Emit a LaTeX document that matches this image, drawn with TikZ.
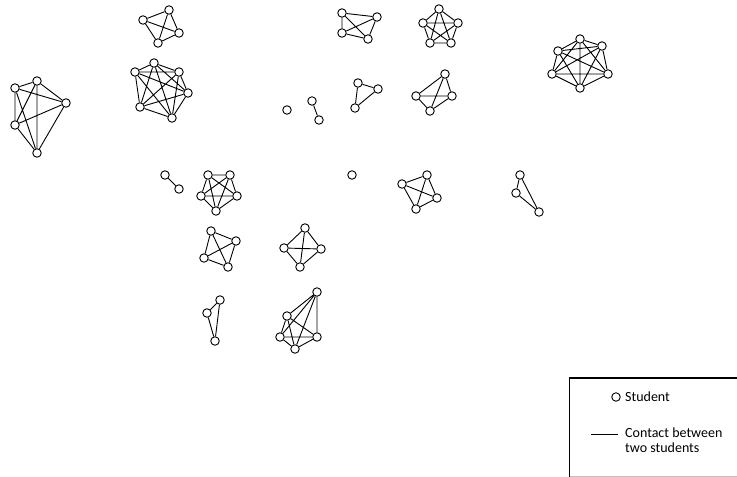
\documentclass[tikz,border=0pt]{standalone}
\usepackage{fontspec}
\setmainfont{Carlito}
\usepackage{tikz}
\usetikzlibrary{positioning}

\begin{document}
\begin{tikzpicture}[x=1pt,y=-1pt,
            stu/.style={circle, draw=black, fill=white, line width=0.9pt, inner sep=0pt, minimum size=8.5pt},
            contact/.style={black, line width=0.9pt},
            legtext/.style={font=\fontsize{14}{15}\selectfont, anchor=west, align=left, inner sep=0pt}]
        \useasboundingbox (0,0) rectangle (737,477);
        % cluster on the far left
        \node[stu] (A1) at (15,88) {};  \node[stu] (A2) at (37,81) {};  \node[stu] (A3) at (66,103) {};
        \node[stu] (A4) at (15,125) {}; \node[stu] (A5) at (37,153) {};
        \draw[contact] (A1)--(A2) (A1)--(A3) (A1)--(A4) (A1)--(A5) (A2)--(A3) (A2)--(A4) (A2)--(A5)
                       (A3)--(A4) (A3)--(A5) (A4)--(A5);
        % top row
        \node[stu] (B1) at (169,10) {}; \node[stu] (B2) at (143,20) {}; \node[stu] (B3) at (179,33) {};
        \node[stu] (B4) at (158,43) {};
        \draw[contact] (B1)--(B2) (B1)--(B3) (B1)--(B4) (B2)--(B3) (B2)--(B4) (B3)--(B4);
        \node[stu] (C1) at (154,63) {}; \node[stu] (C2) at (135,72) {}; \node[stu] (C3) at (179,72) {};
        \node[stu] (C4) at (188,93) {}; \node[stu] (C5) at (140,107) {}; \node[stu] (C6) at (172,118) {};
        \draw[contact] (C1)--(C2) (C1)--(C3) (C1)--(C4) (C1)--(C5) (C1)--(C6) (C2)--(C3) (C2)--(C4)
                       (C2)--(C5) (C2)--(C6) (C3)--(C4) (C3)--(C5) (C3)--(C6) (C4)--(C5) (C4)--(C6) (C5)--(C6);
        \node[stu] (H1) at (342,13) {}; \node[stu] (H2) at (377,17) {}; \node[stu] (H3) at (342,33) {};
        \node[stu] (H4) at (368,39) {};
        \draw[contact] (H1)--(H2) (H1)--(H3) (H1)--(H4) (H2)--(H3) (H2)--(H4) (H3)--(H4);
        \node[stu] (I1) at (439,9) {};  \node[stu] (I2) at (423,23) {}; \node[stu] (I3) at (458,23) {};
        \node[stu] (I4) at (430,43) {}; \node[stu] (I5) at (451,43) {};
        \draw[contact] (I1)--(I2) (I1)--(I3) (I1)--(I4) (I1)--(I5) (I2)--(I3) (I2)--(I4) (I2)--(I5)
                       (I3)--(I4) (I3)--(I5) (I4)--(I5);
        \node[stu] (J1) at (580,39) {}; \node[stu] (J2) at (602,46) {}; \node[stu] (J3) at (558,51) {};
        \node[stu] (J4) at (552,74) {}; \node[stu] (J5) at (608,74) {}; \node[stu] (J6) at (580,88) {};
        \draw[contact] (J1)--(J2) (J1)--(J3) (J1)--(J4) (J1)--(J5) (J1)--(J6) (J2)--(J3) (J2)--(J4)
                       (J2)--(J5) (J2)--(J6) (J3)--(J4) (J3)--(J5) (J3)--(J6) (J4)--(J5) (J4)--(J6) (J5)--(J6);
        % middle row
        \node[stu] (D1) at (287,110) {};
        \node[stu] (E1) at (312,101) {}; \node[stu] (E2) at (319,120) {};
        \draw[contact] (E1)--(E2);
        \node[stu] (F1) at (358,83) {}; \node[stu] (F2) at (378,89) {}; \node[stu] (F3) at (355,108) {};
        \draw[contact] (F1)--(F2) (F1)--(F3) (F2)--(F3);
        \node[stu] (G1) at (445,74) {}; \node[stu] (G2) at (416,96) {}; \node[stu] (G3) at (452,96) {};
        \node[stu] (G4) at (430,111) {};
        \draw[contact] (G1)--(G2) (G1)--(G3) (G1)--(G4) (G2)--(G3) (G2)--(G4) (G3)--(G4);
        \node[stu] (K1) at (165,175) {}; \node[stu] (K2) at (179,189) {};
        \draw[contact] (K1)--(K2);
        \node[stu] (L1) at (208,175) {}; \node[stu] (L2) at (230,175) {}; \node[stu] (L3) at (201,196) {};
        \node[stu] (L4) at (237,196) {}; \node[stu] (L5) at (216,211) {};
        \draw[contact] (L1)--(L2) (L1)--(L3) (L1)--(L4) (L1)--(L5) (L2)--(L3) (L2)--(L4) (L2)--(L5)
                       (L3)--(L4) (L3)--(L5) (L4)--(L5);
        \node[stu] (O1) at (352,175) {};
        \node[stu] (P1) at (427,175) {}; \node[stu] (P2) at (402,184) {}; \node[stu] (P3) at (437,198) {};
        \node[stu] (P4) at (416,209) {};
        \draw[contact] (P1)--(P2) (P1)--(P3) (P1)--(P4) (P2)--(P3) (P2)--(P4) (P3)--(P4);
        \node[stu] (Q1) at (520,175) {}; \node[stu] (Q2) at (516,193) {}; \node[stu] (Q3) at (539,212) {};
        \draw[contact] (Q1)--(Q2) (Q1)--(Q3) (Q2)--(Q3);
        % lower rows
        \node[stu] (M1) at (211,231) {}; \node[stu] (M2) at (236,241) {}; \node[stu] (M3) at (204,258) {};
        \node[stu] (M4) at (228,267) {};
        \draw[contact] (M1)--(M2) (M1)--(M3) (M1)--(M4) (M2)--(M3) (M2)--(M4) (M3)--(M4);
        \node[stu] (N1) at (305,228) {}; \node[stu] (N2) at (284,248) {}; \node[stu] (N3) at (321,249) {};
        \node[stu] (N4) at (300,267) {};
        \draw[contact] (N1)--(N2) (N1)--(N3) (N1)--(N4) (N2)--(N3) (N2)--(N4) (N3)--(N4);
        \node[stu] (R1) at (220,300) {}; \node[stu] (R2) at (207,313) {}; \node[stu] (R3) at (215,341) {};
        \draw[contact] (R1)--(R2) (R1)--(R3) (R2)--(R3);
        \node[stu] (S1) at (317,292) {}; \node[stu] (S2) at (287,316) {}; \node[stu] (S3) at (280,337) {};
        \node[stu] (S4) at (317,337) {}; \node[stu] (S5) at (295,349) {};
        \draw[contact] (S1)--(S2) (S1)--(S3) (S1)--(S4) (S1)--(S5) (S2)--(S3) (S2)--(S4) (S2)--(S5)
                       (S3)--(S4) (S3)--(S5) (S4)--(S5);
        % legend
        \draw[line width=1.3pt] (569.5,476.5) -- (569.5,378) -- (737,378);
        \draw[line width=0.5pt, black!25] (569.5,476.5) -- (737,476.5);
        \node[stu] (legstu) at (616,397) {};
        \node[legtext] (legstutext) at (625,397) {Student};
        \coordinate (legA) at (591,434); \coordinate (legB) at (618,434);
        \draw[contact] (legA) -- (legB);
        \node[legtext] (legcontact) at (625,440.5) {Contact between\\two students};
      \end{tikzpicture}
\end{document}
